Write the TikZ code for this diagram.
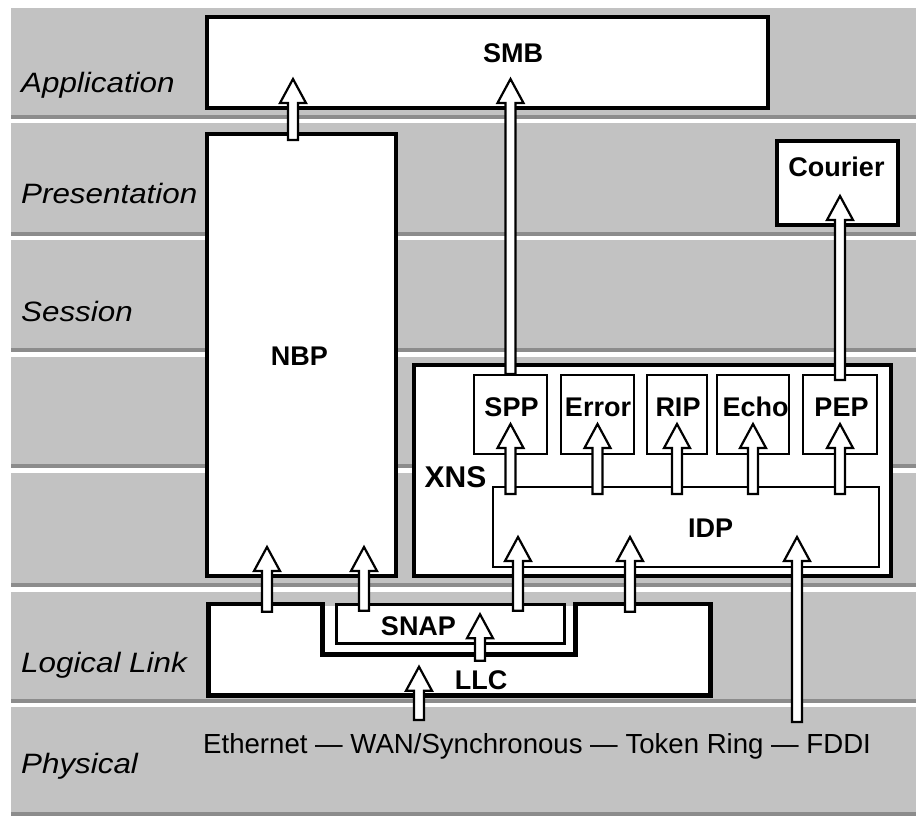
\documentclass[tikz,border=0pt]{standalone}
\usepackage{fontspec}
\setmainfont{Liberation Sans}
\newfontfamily\layerfont[FakeStretch=1.12]{Liberation Sans}
\usetikzlibrary{calc}

\tikzset{
  band/.style={fill=black!24},
  bandedge/.style={fill=black!45},
  thickbox/.style={draw=black, fill=white, line width=4pt, inner sep=0pt, rectangle},
  thinbox/.style={draw=black, fill=white, line width=2pt, inner sep=0pt, rectangle},
  boxlabel/.style={font=\bfseries\fontsize{27}{30}\selectfont, inner sep=0pt, anchor=base},
  layerlabel/.style={font=\layerfont\itshape\fontsize{28}{32}\selectfont, inner sep=0pt, anchor=base west},
  medium/.style={font=\fontsize{27.6}{30}\selectfont, inner sep=0pt, anchor=base west},
  % hollow block arrow, drawn upwards from the start point into the target box
  blk/.style={draw=black, fill=white, line width=2.2pt, line join=miter,
    to path={let \p1=(\tikztostart), \p2=(\tikztotarget) in
      ({\x1-5pt},{\y1-#1pt}) -- ({\x1-5pt},{\y2+7pt}) -- ({\x1-13pt},{\y2+7pt})
      -- ({\x1},{\y2+31pt}) -- ({\x1+13pt},{\y2+7pt}) -- ({\x1+5pt},{\y2+7pt})
      -- ({\x1+5pt},{\y1-#1pt}) -- cycle}},
  blk/.default=8
}

\begin{document}
\begin{tikzpicture}[x=1pt, y=-1pt]
\useasboundingbox (0,0) rectangle (916,818);
\fill[white] (0,0) rectangle (916,818);

% layer bands
\foreach \t/\b in {8/119, 123/236, 240/352, 357/468, 473/587, 592/703, 707/816} {
  \fill[band] (11,\t) rectangle (916,\b);
  \fill[bandedge] (11,\b-4) rectangle (916,\b);
}

% layer names
\node[layerlabel] (lApp)  at (21,93)  {Application};
\node[layerlabel] (lPres) at (21,204) {Presentation};
\node[layerlabel] (lSess) at (21,322) {Session};
\node[layerlabel] (lLink) at (21,672) {Logical Link};
\node[layerlabel] (lPhys) at (21,773) {Physical};

% LLC outline with the notch holding SNAP
\fill[white] (208.5,604) -- (322.5,604) -- (322.5,654.5) -- (575.5,654.5) -- (575.5,604)
  -- (710.5,604) -- (710.5,695.5) -- (208.5,695.5) -- cycle;
\fill[white] (322.5,606) rectangle (575.5,654.5);
\draw[line width=4.5pt, line join=miter] (208.5,604) -- (322.5,604) -- (322.5,654.5) -- (575.5,654.5) -- (575.5,604)
  -- (710.5,604) -- (710.5,695.5) -- (208.5,695.5) -- cycle;
\coordinate (llc-top) at (0,601.75);
\coordinate (llc-notch) at (0,656.75);
\coordinate (llc-bottom) at (0,697.75);

% protocol boxes
\node[thickbox, line width=3.5pt, minimum width=228pt, minimum height=39pt] (snap) at (450.5,624) {};
\node[thickbox, minimum width=561pt, minimum height=91pt] (smb) at (487.5,62.5) {};
\node[thickbox, minimum width=189pt, minimum height=442pt] (nbp) at (301.5,355) {};
\node[thickbox, minimum width=121pt, minimum height=84pt] (courier) at (837.5,183) {};
\node[thickbox, minimum width=477pt, minimum height=211pt] (xns) at (652.5,470.5) {};
\node[thinbox, minimum width=73pt, minimum height=79pt] (spp)  at (510.5,414.5) {};
\node[thinbox, minimum width=73pt, minimum height=79pt] (err)  at (597.5,414.5) {};
\node[thinbox, minimum width=60pt, minimum height=79pt] (rip)  at (677,414.5) {};
\node[thinbox, minimum width=72pt, minimum height=79pt] (echo) at (753,414.5) {};
\node[thinbox, minimum width=74pt, minimum height=79pt] (pep)  at (840,414.5) {};
\node[thinbox, minimum width=386pt, minimum height=80pt] (idp) at (686,527) {};

% arrow columns and free arrow ends
\coordinate (gNbpSmb)  at (293,0);
\coordinate (gLlcNbp)  at (267,0);
\coordinate (gSnapNbp) at (364,0);
\coordinate (gLlcSnap) at (480,0);
\coordinate (gSnapIdp) at (518,0);
\coordinate (gLlcIdp)  at (630,0);
\coordinate (ethsrc)   at (419,720);
\coordinate (fddisrc)  at (797,722);

% upward arrows
\path[blk] (gNbpSmb |- nbp.north) to (smb.south);
\path[blk=0] (spp.north) to (smb.south);
\path[blk=6] (pep.north) to (courier.south);
\foreach \b in {spp,err,rip,echo,pep}
  \path[blk] (\b.south |- idp.north) to (\b.south);
\path[blk=10] (gLlcNbp |- llc-top) to (nbp.south);
\path[blk] (gSnapNbp |- snap.north) to (nbp.south);
\path[blk] (gSnapIdp |- snap.north) to (idp.south);
\path[blk=10] (gLlcIdp |- llc-top) to (idp.south);
\path[blk=0] (fddisrc) to (idp.south);
\path[blk=4] (gLlcSnap |- llc-notch) to (snap.south);
\path[blk=0] (ethsrc) to (llc-bottom);

% box labels
\node[boxlabel] (tSmb)     at (513,63)    {SMB};
\node[boxlabel] (tNbp)     at (299.5,366) {NBP};
\node[boxlabel] (tCourier) at (836.5,177) {Courier};
\node[boxlabel] (tSpp)     at (511.5,416) {SPP};
\node[boxlabel] (tErr)     at (598,416)   {Error};
\node[boxlabel] (tRip)     at (678,416)   {RIP};
\node[boxlabel] (tEcho)    at (755.5,416) {Echo};
\node[boxlabel] (tPep)     at (841.5,416) {PEP};
\node[boxlabel, font=\bfseries\fontsize{30}{33}\selectfont] (tXns) at (455.5,487) {XNS};
\node[boxlabel] (tIdp)     at (710.5,537) {IDP};
\node[boxlabel] (tSnap)    at (418.5,635) {SNAP};
\node[boxlabel] (tLlc)     at (481,689)   {LLC};

% physical media
\node[medium] (media) at (203,753) {Ethernet — WAN/Synchronous — Token Ring — FDDI};
\end{tikzpicture}
\end{document}
